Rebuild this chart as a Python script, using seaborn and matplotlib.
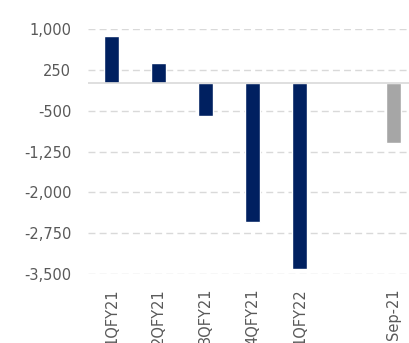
import numpy as np
import pandas as pd
import matplotlib
matplotlib.use("Agg")
import matplotlib.pyplot as plt
import seaborn as sns
from matplotlib.ticker import FuncFormatter

categories = ["1QFY21", "2QFY21", "3QFY21", "4QFY21", "1QFY22", "", "Sep-21"]
values = [870, 380, -600, -2550, -3400, np.nan, -1100]
bar_colors = ["#002060", "#002060", "#002060", "#002060", "#002060", "#002060", "#a6a6a6"]
yticks = [1000, 250, -500, -1250, -2000, -2750, -3500]

df = pd.DataFrame({"cat": categories, "val": values})

sns.set_theme(style="white")
plt.rcParams["font.family"] = ["DejaVu Sans"]

fig = plt.figure(figsize=(4.09, 3.43), dpi=100)
ax = fig.add_axes([88 / 409, 69 / 343, 329 / 409, 245 / 343])

sns.barplot(data=df, x="cat", y="val", hue="cat", order=categories,
            hue_order=categories, palette=dict(zip(categories, bar_colors)),
            width=0.31, legend=False, ax=ax, saturation=1)

ax.set_ylim(-3500, 1000)
ax.set_xlim(-0.5, 6.5)
ax.set_yticks(yticks)
ax.yaxis.set_major_formatter(FuncFormatter(lambda v, p: f"{int(v):,}"))
ax.grid(axis="y", color="#d9d9d9", linestyle=(0, (5, 3)), linewidth=1.0)
ax.set_axisbelow(True)
ax.axhline(0, color="#d9d9d9", linewidth=1.2, zorder=1)
for s in ax.spines.values():
    s.set_visible(False)
ax.set_xlabel("")
ax.set_ylabel("")
ax.tick_params(axis="y", length=0, pad=12, labelsize=10.5, labelcolor="#595959")
ax.tick_params(axis="x", length=0, pad=10, labelsize=10.5, labelcolor="#595959",
               labelrotation=90)
for lab in ax.get_xticklabels():
    lab.set_va("top")

fig.savefig("out.png", dpi=100)
